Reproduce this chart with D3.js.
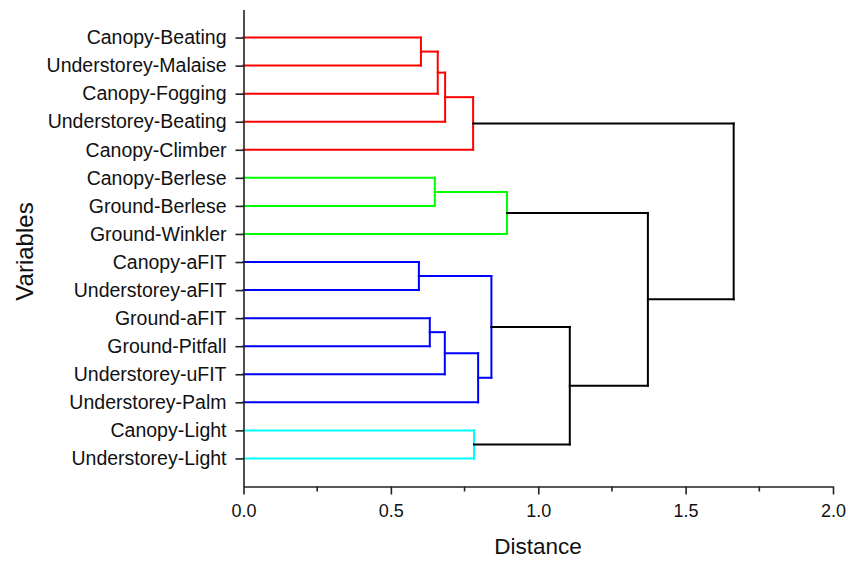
<!DOCTYPE html>
<html>
<head>
<meta charset="utf-8">
<script src="https://cdn.jsdelivr.net/npm/d3@7"></script>
<style>
  body { margin: 0; background: #fff; }
  svg { font-family: "Liberation Sans", Arial, sans-serif; }
</style>
</head>
<body>
<svg id="chart"></svg>
<script>
// leaves, top to bottom
const leafNames = [
  "Canopy-Beating", "Understorey-Malaise", "Canopy-Fogging", "Understorey-Beating",
  "Canopy-Climber", "Canopy-Berlese", "Ground-Berlese", "Ground-Winkler",
  "Canopy-aFIT", "Understorey-aFIT", "Ground-aFIT", "Ground-Pitfall",
  "Understorey-uFIT", "Understorey-Palm", "Canopy-Light", "Understorey-Light"
];

// linkage: [left node, right node, distance], new node ids start at 16
const merges = [
  [0, 1, 0.602],
  [16, 2, 0.659],
  [17, 3, 0.684],
  [18, 4, 0.779],
  [5, 6, 0.649],
  [20, 7, 0.894],
  [8, 9, 0.595],
  [10, 11, 0.632],
  [23, 12, 0.683],
  [24, 13, 0.796],
  [22, 25, 0.841],
  [14, 15, 0.782],
  [26, 27, 1.107],
  [21, 28, 1.372],
  [19, 29, 1.663]
];

// cluster top nodes
const clusterRoots = [19, 21, 26, 27];
const clusterColors = ["#ff0000", "#00ff00", "#0000ff", "#00ffff"];

const xTicks = [0, 0.5, 1, 1.5, 2];
const xMinorTicks = [0.25, 0.75, 1.25, 1.75];

const W = 848, H = 562;
const svg = d3.select("#chart").attr("width", W).attr("height", H);

const x = d3.scaleLinear().domain([0, 2]).range([243.5, 833]);
const y = d3.scaleLinear().domain([0, 17]).range([9.5, 486.5]);

// node positions
const n = leafNames.length;
const nodes = leafNames.map((name, i) => ({ id: i, dist: 0, pos: i + 1 }));
merges.forEach((m, k) => {
  nodes.push({ id: n + k, left: m[0], right: m[1], dist: m[2],
    pos: (nodes[m[0]].pos + nodes[m[1]].pos) / 2 });
});

// colour: every node under a cluster root gets that colour
const color = nodes.map(() => "#000");
function paint(id, c) {
  color[id] = c;
  const nd = nodes[id];
  if (nd.left !== undefined) { paint(nd.left, c); paint(nd.right, c); }
}
clusterRoots.forEach((r, i) => paint(r, clusterColors[i]));

const g = svg.append("g");
const links = [];
nodes.filter(d => d.left !== undefined).forEach(d => {
  const c = color[d.id];
  const a = nodes[d.left], b = nodes[d.right];
  links.push({ x1: x(d.dist), x2: x(d.dist), y1: y(a.pos), y2: y(b.pos), c: c });
  [a, b].forEach(ch => {
    links.push({ x1: x(ch.dist), x2: x(d.dist), y1: y(ch.pos), y2: y(ch.pos), c: c });
  });
});

g.selectAll("line")
  .data(links)
  .join("line")
  .attr("x1", d => d.x1).attr("x2", d => d.x2)
  .attr("y1", d => d.y1).attr("y2", d => d.y2)
  .attr("stroke", d => d.c)
  .attr("stroke-width", 2)
  .attr("stroke-linecap", "square");

// axes
const xAxis = svg.append("g")
  .attr("transform", "translate(0," + y(17) + ")")
  .call(d3.axisBottom(x).tickValues(xTicks).tickFormat(d3.format(".1f"))
    .tickSize(8).tickSizeOuter(0).tickPadding(10));
xAxis.append("g").selectAll("line")
  .data(xMinorTicks)
  .join("line")
  .attr("x1", d => x(d)).attr("x2", d => x(d))
  .attr("y1", 0).attr("y2", 5)
  .attr("stroke", "#222");

const yAxis = svg.append("g")
  .attr("transform", "translate(" + x(0) + ",0)")
  .call(d3.axisLeft(y).tickValues(d3.range(1, n + 1))
    .tickFormat(d => leafNames[d - 1])
    .tickSize(8).tickSizeOuter(0).tickPadding(9));

[xAxis, yAxis].forEach(a => {
  a.selectAll("path, line").attr("stroke", "#222").attr("stroke-width", 1.6);
  a.selectAll("text").attr("fill", "#111");
});
xAxis.selectAll("text").attr("font-size", 18);
yAxis.selectAll("text").attr("font-size", 19.5);

svg.append("text")
  .attr("x", 538).attr("y", 554)
  .attr("text-anchor", "middle")
  .attr("font-size", 22.5)
  .attr("fill", "#111")
  .text("Distance");

svg.append("text")
  .attr("transform", "translate(33,251.5) rotate(-90)")
  .attr("text-anchor", "middle")
  .attr("font-size", 24)
  .attr("fill", "#111")
  .text("Variables");
</script>
</body>
</html>
